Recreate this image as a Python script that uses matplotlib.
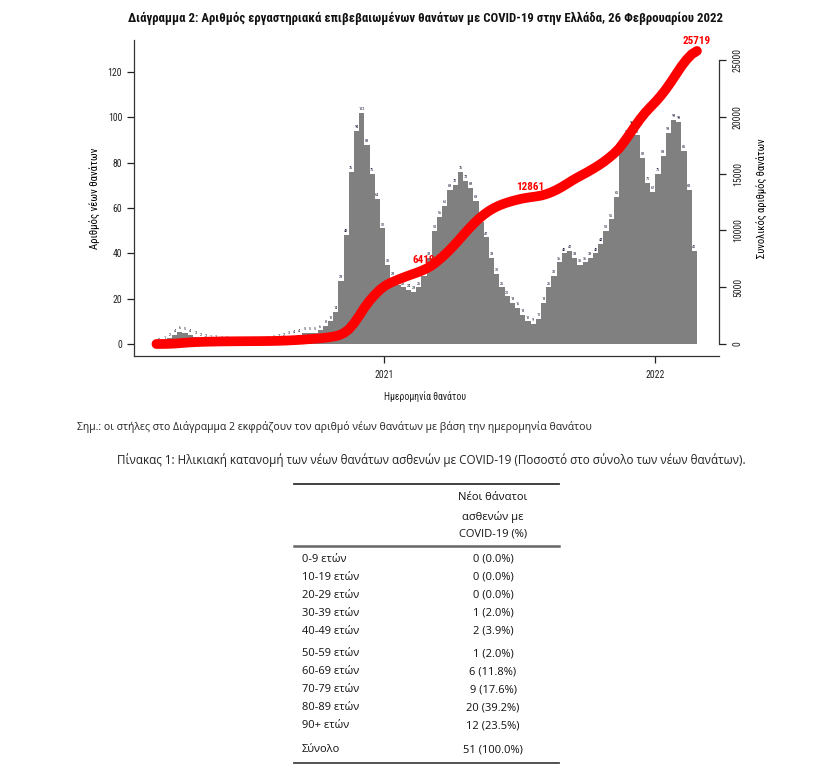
import numpy as np
import matplotlib
matplotlib.use("Agg")
import matplotlib.pyplot as plt
from matplotlib.lines import Line2D

# ---------------- data ----------------
first_week = "2020-03-01"          # first day of the first weekly bin
# average daily deaths per week
weekly_deaths = [
    0.3, 0.8, 2.5, 4, 5.5, 5, 4, 3, 2.2, 1.8, 1.4, 1.2, 1.0,            # Mar-May 2020
    0.8, 0.6, 0.5, 0.5, 0.4, 0.4, 0.5, 0.6, 0.8, 1.2, 2, 2.5, 3,        # Jun-Aug 2020
    3.5, 4, 5, 5, 5, 6, 8, 10, 14,                                      # Sep-Oct 2020
    28, 48, 76, 94, 102, 88, 75, 64, 51,                                # Nov-Dec 2020
    35, 29, 26, 25, 24, 23, 25, 30,                                     # Jan-Feb 2021
    38, 50, 56, 61, 68, 70, 76, 72, 69, 63, 54, 47, 38, 31, 25, 21, 18, 16, 13, 10,
    9, 11, 18, 25, 30, 36, 40, 41, 38, 35, 36, 38, 40, 44, 50, 55, 65, 86, 92, 96,
    92, 82, 71, 67,                                                     # Dec 2021
    75, 83, 93, 99, 98, 85, 68, 41,                                     # Jan-Feb 2022
]
cum_labels = [6419, 12861, 25719]
cum_label_dates = ["2021-02-24", "2021-07-17", "2022-02-26"]
left_ticks = [0, 20, 40, 60, 80, 100, 120]
right_ticks = [0, 5000, 10000, 15000, 20000, 25000]
year_tick_dates = ["2021-01-01", "2022-01-01"]
year_labels = ["2021", "2022"]

title = "Διάγραμμα 2: Αριθμός εργαστηριακά επιβεβαιωμένων θανάτων με COVID-19 στην Ελλάδα, 26 Φεβρουαρίου 2022"
ylabel_left = "Αριθμός νέων θανάτων"
ylabel_right = "Συνολικός αριθμός θανάτων"
xlabel = "Ημερομηνία θανάτου"
note = "Σημ.: οι στήλες στο Διάγραμμα 2 εκφράζουν τον αριθμό νέων θανάτων με βάση την ημερομηνία θανάτου"
table_title = "Πίνακας 1: Ηλικιακή κατανομή των νέων θανάτων ασθενών με COVID-19 (Ποσοστό στο σύνολο των νέων θανάτων)."
table_header = ["Νέοι θάνατοι", "ασθενών με", "COVID-19 (%)"]
age_groups = ["0-9 ετών", "10-19 ετών", "20-29 ετών", "30-39 ετών", "40-49 ετών",
              "50-59 ετών", "60-69 ετών", "70-79 ετών", "80-89 ετών", "90+ ετών", "Σύνολο"]
new_deaths = [0, 0, 0, 1, 2, 1, 6, 9, 20, 12, 51]
new_pct = [0.0, 0.0, 0.0, 2.0, 3.9, 2.0, 11.8, 17.6, 39.2, 23.5, 100.0]

# ---------------- helpers ----------------
ref = np.datetime64("2021-01-01")
def day(s):
    return float((np.datetime64(s) - ref) / np.timedelta64(1, "D"))

W, H = 818, 771
def fx(px):
    return px / W
def fy(py):
    return 1 - py / H

chart_font = ["Liberation Sans Narrow", "Roboto Condensed", "DejaVu Sans"]
table_font = ["Open Sans", "DejaVu Sans"]
plt.rcParams["font.family"] = chart_font

fig = plt.figure(figsize=(W / 100, H / 100), dpi=100)
fig.patch.set_facecolor("white")

ax_l, ax_r, ax_t, ax_b = 134, 719, 40, 355.7
ax = fig.add_axes([fx(ax_l), fy(ax_b), fx(ax_r) - fx(ax_l), fy(ax_t) - fy(ax_b)])

vals = np.array(weekly_deaths, dtype=float)
n = len(vals)
d0 = day(first_week)
lefts = d0 - 0.5 + 7 * np.arange(n)
ax.bar(lefts, vals, width=7, align="edge", color="#808080", linewidth=0, zorder=2)
for xl, v in zip(lefts, vals):
    ax.text(xl + 3.5, v + 0.8, f"{int(round(v))}", fontsize=3.2, color="#1c1c3a",
            ha="center", va="bottom", zorder=3)

ax.set_xlim(-336.7, 451.2)
ax.set_ylim(-5.16, 134.1)
ax.set_yticks(left_ticks)
ax.set_xticks([day(s) for s in year_tick_dates])
ax.set_xticklabels(year_labels)
ax.tick_params(axis="both", direction="out", length=5, width=0.9, labelsize=7, colors="#222222")
ax.tick_params(axis="x", pad=5)
for s in ["top", "right"]:
    ax.spines[s].set_visible(False)
for s in ["left", "bottom"]:
    ax.spines[s].set_linewidth(0.9)
    ax.spines[s].set_color("#333333")
ax.set_ylabel(ylabel_left, fontsize=7.8, labelpad=5)

ax2 = ax.twinx()
ax2.set_position(ax.get_position())
ax2.set_ylim(-1030, 26760)
ax2.set_yticks(right_ticks)
ax2.spines["right"].set_bounds(0, 25000)
ax2.spines["right"].set_linewidth(0.9)
ax2.spines["right"].set_color("#333333")
for s in ["top", "left", "bottom"]:
    ax2.spines[s].set_visible(False)
ax2.tick_params(axis="y", direction="out", length=5, width=0.9, labelsize=7, colors="#222222", pad=5)
for lab in ax2.get_yticklabels():
    lab.set_rotation(90)
    lab.set_va("center")
ax2.set_ylabel(ylabel_right, fontsize=7.6, rotation=90, labelpad=10)

cum = np.concatenate([[0.0], np.cumsum(vals * 7)])
cum_x = d0 - 0.5 + 7 * np.arange(n + 1)
ax2.plot(cum_x, cum, color="red", lw=7, solid_capstyle="round", solid_joinstyle="round", zorder=5)
for v, s in zip(cum_labels, cum_label_dates):
    ax2.annotate(f"{v}", (day(s), v), xytext=(0, 4.5), textcoords="offset points",
                 ha="center", va="bottom", color="red", fontsize=8, fontweight="bold", zorder=6)

fig.text(fx(426), fy(18), title, ha="center", va="center", fontsize=9.2, fontweight="bold", color="#111111")
fig.text(fx(425), fy(397), xlabel, ha="center", va="center", fontsize=7, color="#222222")
fig.text(fx(77), fy(427), note, ha="left", va="center", fontsize=7.45, color="#222222", family=table_font)
fig.text(fx(117), fy(460), table_title, ha="left", va="center", fontsize=8.35, color="#222222", family=table_font)

# ---------------- table ----------------
tx0, tx1 = 294, 559
for y, lw, c in [(484, 1.3, "#333333"), (546, 1.8, "#666666"), (763, 1.3, "#444444")]:
    fig.add_artist(Line2D([fx(tx0), fx(tx1)], [fy(y), fy(y)], color=c, lw=lw))
for txt, y in zip(table_header, [498, 517, 534]):
    fig.text(fx(493), fy(y), txt, ha="center", va="center", fontsize=8, family=table_font, color="#111111")
row_y = [559, 577, 595, 613, 631, 654, 672, 690, 708, 726, 750]
for g, nd, p, y in zip(age_groups, new_deaths, new_pct, row_y):
    fig.text(fx(302), fy(y), g, ha="left", va="center", fontsize=8, family=table_font, color="#111111")
    fig.text(fx(493), fy(y), f"{nd} ({p:.1f}%)", ha="center", va="center", fontsize=8,
             family=table_font, color="#111111")

fig.savefig("out.png", dpi=100, facecolor="white")
